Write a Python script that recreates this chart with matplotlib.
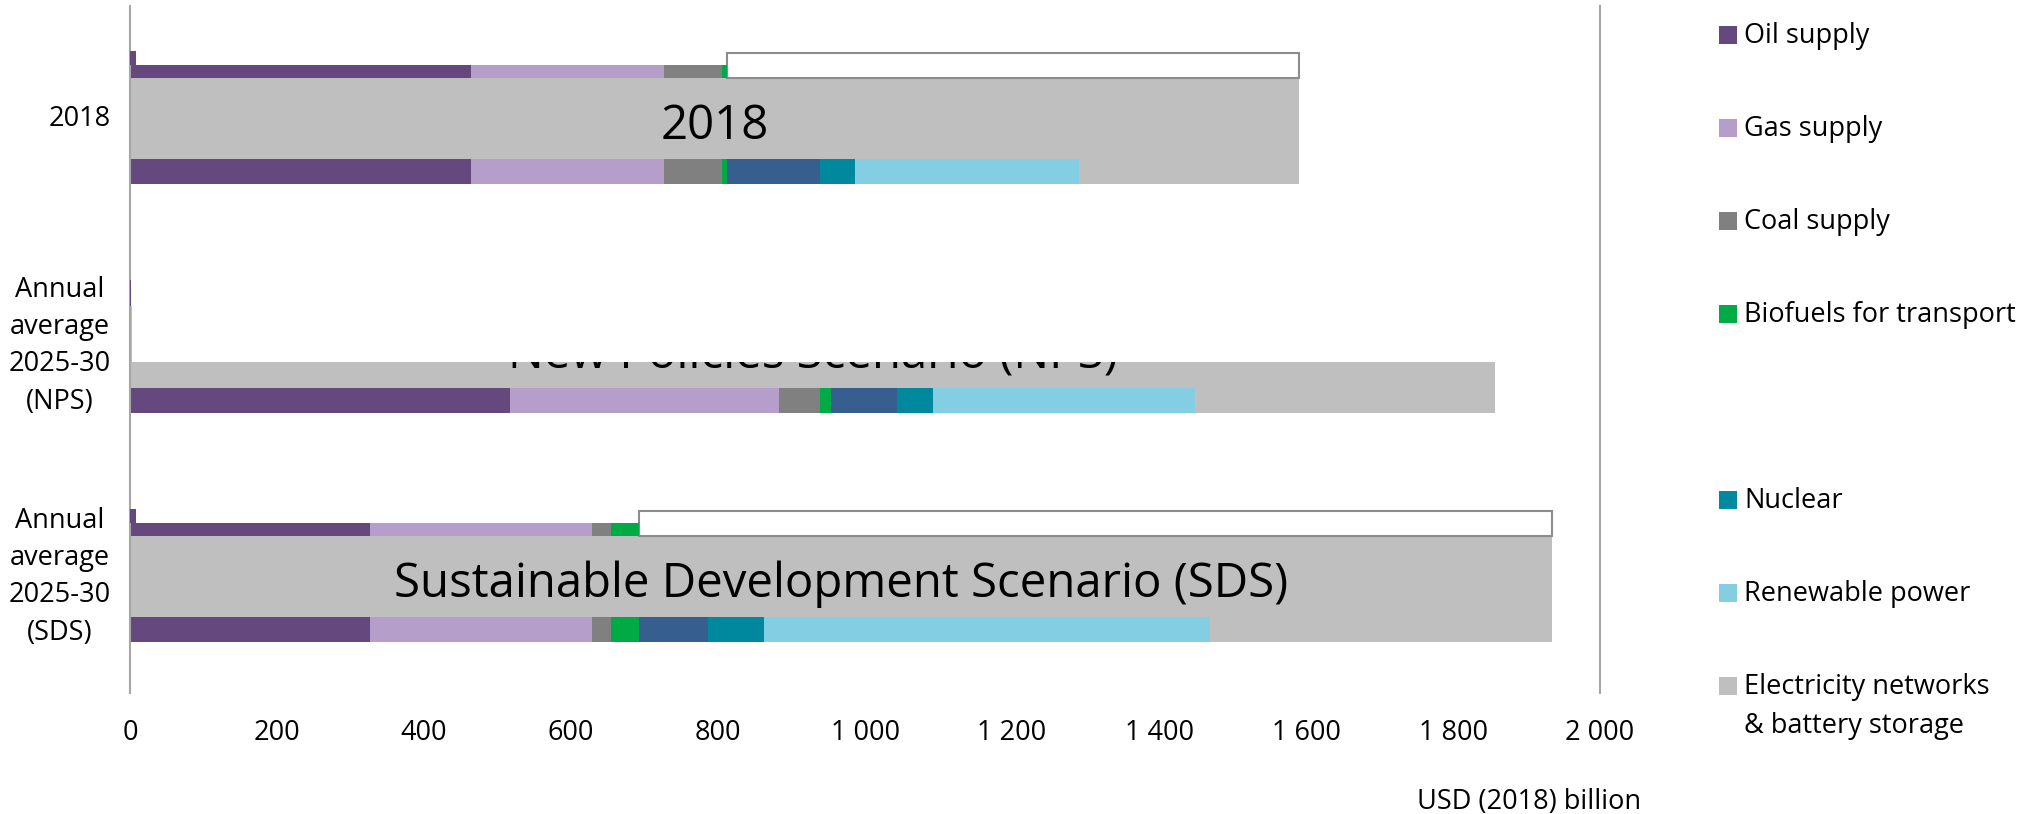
import matplotlib
matplotlib.use("Agg")
import matplotlib.pyplot as plt
from matplotlib.patches import Rectangle
import numpy as np

# ---------------- data ----------------
categories = ["2018", "Annual\naverage\n2025-30\n(NPS)", "Annual\naverage\n2025-30\n(SDS)"]
scenario_labels = ["2018", "New Policies Scenario (NPS)", "Sustainable Development Scenario (SDS)"]

series_names = ["Oil supply", "Gas supply", "Coal supply", "Biofuels for transport",
                "Fossil fuel power", "Nuclear", "Renewable power",
                "Electricity networks\n& battery storage"]
legend_labels = ["Oil supply", "Gas supply", "Coal supply", "Biofuels for transport",
                 "", "Nuclear", "Renewable power", "Electricity networks\n& battery storage"]

oil_supply = [464, 517, 326]
gas_supply = [262, 366, 302]
coal_supply = [80, 56, 26]
biofuels = [6, 15, 38]
fossil_power = [127, 90, 95]
nuclear = [47, 49, 76]
renewable_power = [305, 356, 607]
networks_storage = [299, 408, 465]

# helper (overlay) series seen in the original chart
overlay_shown = [1, 0, 1]          # upper thin fuel-supply bar + white box
stub_values = [8, 2, 8]            # small purple stubs at the axis
sliver_values = [0, 3, 0]          # small grey sliver (NPS only)

x_ticks = [0, 200, 400, 600, 800, 1000, 1200, 1400, 1600, 1800, 2000]
x_tick_labels = ["0", "200", "400", "600", "800", "1 000", "1 200", "1 400", "1 600", "1 800", "2 000"]
x_unit_label = "USD (2018) billion"

colors = ["#64487E", "#B59FCA", "#808080", "#00AA45", "#365F8F", "#00889F", "#83CEE2", "#BFBFBF"]
label_bar_color = "#BFBFBF"
spine_color = "#A6A6A6"

# ---------------- figure ----------------
W, H = 2023, 814
fig = plt.figure(figsize=(W / 100, H / 100), dpi=100)
FONT = ["Open Sans", "DejaVu Sans"]
plt.rcParams["font.family"] = FONT

ax_left, ax_right, ax_top, ax_bottom = 130, 1600, 6, 693
ax = fig.add_axes([ax_left / W, 1 - ax_bottom / H, (ax_right - ax_left) / W, (ax_bottom - ax_top) / H])
ax.set_xlim(0, 2000)
ax.set_ylim(2.5, -0.5)
PX = 3.0 / (ax_bottom - ax_top)     # data units per pixel (vertical)

series = [oil_supply, gas_supply, coal_supply, biofuels, fossil_power, nuclear,
          renewable_power, networks_storage]
data = np.array(series, dtype=float)          # (8, 3)
totals = data.sum(axis=0)
ypos = np.arange(len(categories))


def band(top, bottom):
    """centre and height (data units) of a band given pixel offsets from category centre"""
    return ypos + (top + bottom) / 2 * PX, (bottom - top) * PX


# label bars (grey, carrying the scenario names)
lb_top = np.array([-42.5, 12.0, -42.5])
lb_bot = np.array([38.5, 38.5, 38.5])
lb_y = ypos + (lb_top + lb_bot) / 2 * PX
lb_h = (lb_bot - lb_top) * PX
label_bars = ax.barh(lb_y, totals, height=lb_h, color=label_bar_color, linewidth=0, zorder=1)

# main stacked bars
my, mh = band(38.5, 63.5)
left = np.zeros(len(categories))
for vals, col, name in zip(data, colors, series_names):
    ax.barh(my, vals, height=mh, left=left, color=col, linewidth=0, zorder=2, label=name)
    left += vals

# upper thin bar: fuel supply only + white box for the remainder
shown = np.array(overlay_shown, dtype=float)
ty, th = band(-55.5, -42.5)
left = np.zeros(len(categories))
for vals, col in zip(data[:4], colors[:4]):
    ax.barh(ty, vals * shown, height=th, left=left, color=col, linewidth=0, zorder=2)
    left += vals * shown
wy, wh = band(-68.0, -42.5)
ax.barh(wy, (totals - left) * shown, height=wh, left=left, color="white",
        edgecolor="#8C8C8C", linewidth=1.5 * shown, zorder=1.5)

# small stubs at the axis
stub_top = np.array([-70.0, -70.0, -70.0])
stub_bot = np.array([-55.5, -44.0, -55.5])
ax.barh(ypos + (stub_top + stub_bot) / 2 * PX, stub_values, height=(stub_bot - stub_top) * PX,
        color=colors[0], linewidth=0, zorder=3)
sy, sh = band(-44.0, 12.0)
ax.barh(sy, sliver_values, height=sh, color=label_bar_color, linewidth=0, zorder=1)

# scenario names on the grey label bars (fit width of the longest)
fig.canvas.draw()
renderer = fig.canvas.get_renderer()
probe = ax.text(0, 0, scenario_labels[2], fontsize=36)
w_probe = probe.get_window_extent(renderer).width
probe.remove()
label_fs = 36 * 894 / w_probe
for i, (txt, tot) in enumerate(zip(scenario_labels, totals)):
    t = ax.text(tot / 2, i + 18.5 * PX, txt, fontsize=label_fs, ha="center", va="baseline",
                color="black", zorder=4)
    t.set_clip_on(True)
    t.set_clip_path(label_bars.patches[i])

# axes styling
for s in ["top", "bottom"]:
    ax.spines[s].set_visible(False)
for s in ["left", "right"]:
    ax.spines[s].set_color(spine_color)
    ax.spines[s].set_linewidth(1.5)
ax.set_xticks(x_ticks)
ax.set_xticklabels(x_tick_labels, fontsize=19.5)
# category label anchors (slightly above band centres, as in the original)
label_shift_px = np.array([-5.0, -12.0, -10.0])
ax.set_yticks(ypos + label_shift_px * PX)
ax.set_yticklabels(categories, fontsize=19.5, linespacing=1.45)
for t in ax.get_yticklabels():
    t.set_multialignment("center")
ax.tick_params(axis="x", length=0, pad=18.5)
ax.tick_params(axis="y", length=0, pad=14)
ax.set_facecolor("white")

fig.text(1641 / W, 1 - 802 / H, x_unit_label, fontsize=19.5, ha="right", va="center")

# legend (manual, keeps the blank slot of the original)
leg_y0, leg_dy = 35, 93
for i, (lab, col) in enumerate(zip(legend_labels, colors)):
    if not lab:
        continue
    yc = leg_y0 + i * leg_dy
    fig.patches.append(Rectangle((1719 / W, 1 - (yc + 9) / H), 18 / W, 18 / H,
                                 transform=fig.transFigure, facecolor=col, edgecolor="none"))
    nlines = lab.count("\n") + 1
    yt = yc + 1 + (nlines - 1) * 39 / 2
    fig.text(1744 / W, 1 - yt / H, lab, fontsize=19.5, ha="left", va="center", linespacing=1.55)

fig.savefig("out.png", dpi=100)
